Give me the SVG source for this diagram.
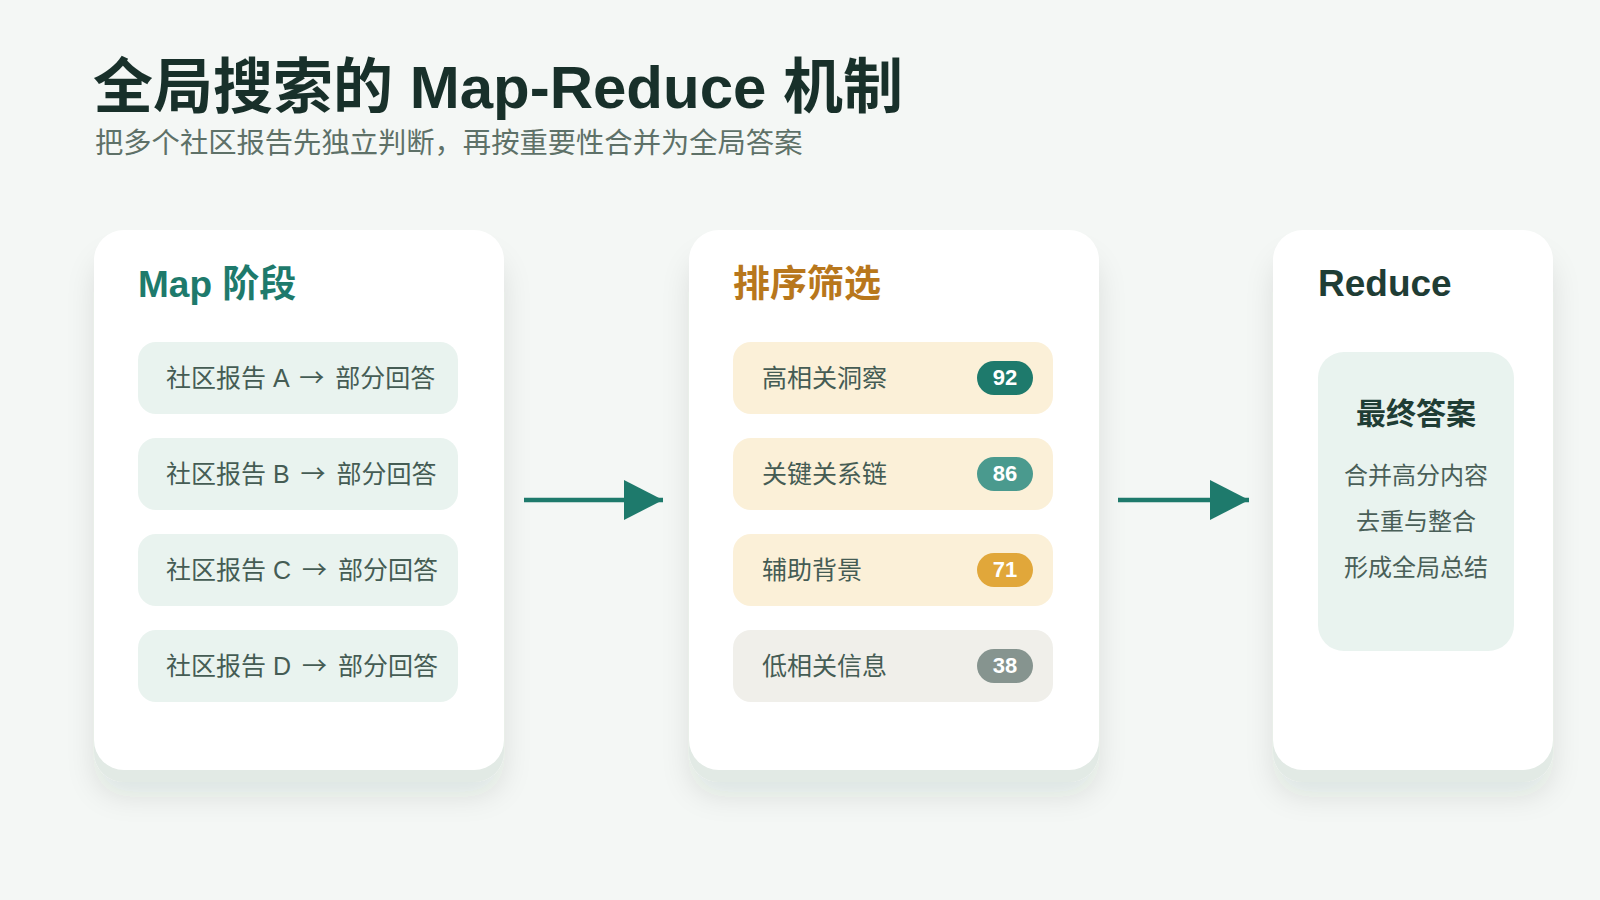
<svg xmlns="http://www.w3.org/2000/svg" width="1600" height="900" viewBox="0 0 1600 900">
<defs>
<filter id="sh" x="-20%" y="-20%" width="140%" height="150%">
<feGaussianBlur in="SourceAlpha" stdDeviation="14"/>
<feOffset dy="14" result="b"/>
<feFlood flood-color="#1d3a32" flood-opacity="0.10"/>
<feComposite in2="b" operator="in"/>
<feMerge><feMergeNode/><feMergeNode in="SourceGraphic"/></feMerge>
</filter>
<marker id="ah" markerUnits="userSpaceOnUse" markerWidth="40" markerHeight="40" refX="39" refY="20" orient="auto">
<path d="M0,0 L39,20 L0,40 Z" fill="#1E7A6C"/>
</marker>
</defs>
<style>
.cn{font-family:"Liberation Sans","Noto Sans CJK SC",sans-serif}
.ar{font-family:"Noto Sans CJK SC",sans-serif}
.card{fill:#FFFFFF}
.lip{fill:#E2EAE5}
.h2{font-size:37px;font-weight:700}
.it{font-size:25px;fill:#455C54}
.tl{fill:#E9F3EF}
.am{fill:#FBF0D8}
.gy{fill:#F0EFEA}
.bt{font-size:22px;font-weight:700;fill:#FFFFFF;text-anchor:middle}
.rl{font-size:24px;fill:#4A5F58;text-anchor:middle}
.conn{stroke:#1E7A6C;stroke-width:4.5;fill:none}
</style>
<rect width="1600" height="900" fill="#F4F7F5"/>

<g id="title" class="cn">
<text x="93" y="108" font-size="60" font-weight="700" fill="#18302A">全局搜索的 Map-Reduce 机制</text>
<text x="95" y="153" font-size="28.3" fill="#5E7168">把多个社区报告先独立判断，再按重要性合并为全局答案</text>
</g>

<g id="map-card" class="cn">
<rect class="lip" x="94" y="242" width="410" height="540" rx="30" filter="url(#sh)"/>
<rect class="card" x="94" y="230" width="410" height="540" rx="30"/>
<text class="h2" x="138" y="297" fill="#1E7A6C">Map 阶段</text>
<g id="map-a"><rect class="tl" x="138" y="342" width="320" height="72" rx="18"/><text class="it" x="166" y="387">社区报告 A <tspan class="ar" dx="4">→</tspan><tspan dx="4"> 部分回答</tspan></text></g>
<g id="map-b"><rect class="tl" x="138" y="438" width="320" height="72" rx="18"/><text class="it" x="166" y="483">社区报告 B <tspan class="ar" dx="4">→</tspan><tspan dx="4"> 部分回答</tspan></text></g>
<g id="map-c"><rect class="tl" x="138" y="534" width="320" height="72" rx="18"/><text class="it" x="166" y="579">社区报告 C <tspan class="ar" dx="4">→</tspan><tspan dx="4"> 部分回答</tspan></text></g>
<g id="map-d"><rect class="tl" x="138" y="630" width="320" height="72" rx="18"/><text class="it" x="166" y="675">社区报告 D <tspan class="ar" dx="4">→</tspan><tspan dx="4"> 部分回答</tspan></text></g>
</g>

<g id="rank-card" class="cn">
<rect class="lip" x="689" y="242" width="410" height="540" rx="30" filter="url(#sh)"/>
<rect class="card" x="689" y="230" width="410" height="540" rx="30"/>
<text class="h2" x="733" y="297" font-size="35" fill="#B8771C">排序筛选</text>
<g id="rank-1"><rect class="am" x="733" y="342" width="320" height="72" rx="18"/><text class="it" x="762" y="387">高相关洞察</text><rect x="977" y="361" width="56" height="34" rx="17" fill="#1E7A6C"/><text class="bt" x="1005" y="385">92</text></g>
<g id="rank-2"><rect class="am" x="733" y="438" width="320" height="72" rx="18"/><text class="it" x="762" y="483">关键关系链</text><rect x="977" y="457" width="56" height="34" rx="17" fill="#4A9A8E"/><text class="bt" x="1005" y="481">86</text></g>
<g id="rank-3"><rect class="am" x="733" y="534" width="320" height="72" rx="18"/><text class="it" x="762" y="579">辅助背景</text><rect x="977" y="553" width="56" height="34" rx="17" fill="#E1A73A"/><text class="bt" x="1005" y="577">71</text></g>
<g id="rank-4"><rect class="gy" x="733" y="630" width="320" height="72" rx="18"/><text class="it" x="762" y="675">低相关信息</text><rect x="977" y="649" width="56" height="34" rx="17" fill="#86948F"/><text class="bt" x="1005" y="673">38</text></g>
</g>

<g id="reduce-card" class="cn">
<rect class="lip" x="1273" y="242" width="280" height="540" rx="30" filter="url(#sh)"/>
<rect class="card" x="1273" y="230" width="280" height="540" rx="30"/>
<text class="h2" x="1318" y="296" font-size="35" fill="#1F3D35">Reduce</text>
<g id="final">
<rect class="tl" x="1318" y="352" width="196" height="299" rx="26"/>
<text x="1416" y="424" font-size="30" font-weight="700" fill="#1F3D35" text-anchor="middle">最终答案</text>
<text class="rl" x="1416" y="484">合并高分内容</text>
<text class="rl" x="1416" y="530">去重与整合</text>
<text class="rl" x="1416" y="576">形成全局总结</text>
</g>
</g>

<g id="connectors">
<line class="conn" x1="524" y1="500" x2="663" y2="500" marker-end="url(#ah)"/>
<line class="conn" x1="1118" y1="500" x2="1249" y2="500" marker-end="url(#ah)"/>
</g>
</svg>
